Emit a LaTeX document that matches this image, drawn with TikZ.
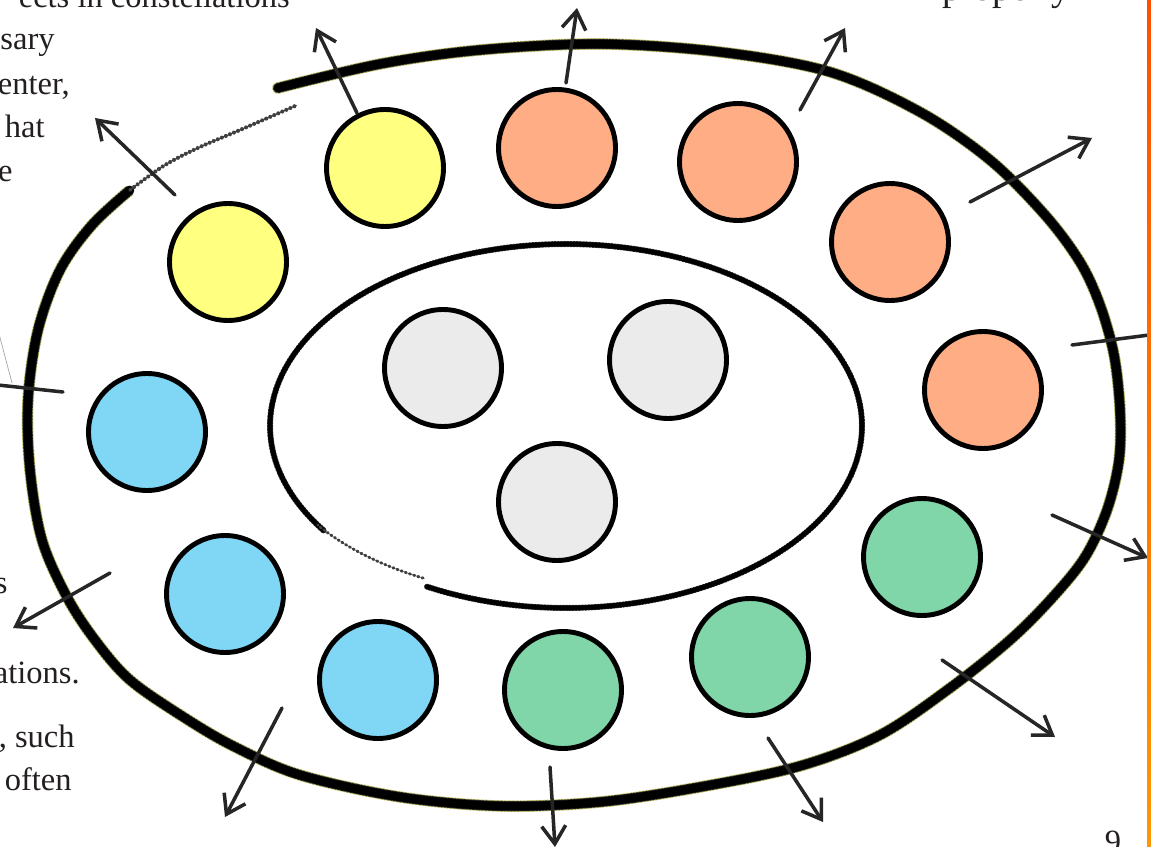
\documentclass[tikz,border=0pt]{standalone}
\usepackage{fontspec}
\setmainfont{Liberation Serif}
\usetikzlibrary{arrows.meta,calc}
\definecolor{ringyellow}{RGB}{255,255,128}
\definecolor{ringsalmon}{RGB}{255,173,133}
\definecolor{ringblue}{RGB}{128,214,245}
\definecolor{ringgreen}{RGB}{128,214,168}
\definecolor{coregray}{RGB}{235,235,235}
\definecolor{rimhalo}{RGB}{150,150,10}
\definecolor{pageink}{RGB}{35,31,32}
\definecolor{bartop}{RGB}{255,78,0}
\definecolor{barbottom}{RGB}{255,152,0}

\begin{document}
\begin{tikzpicture}[x=0.02cm,y=-0.02cm,line cap=round,
  ball/.style={circle,draw=black,line width=2.8pt,minimum size=2.34cm,inner sep=0pt},
  ray/.style={draw=black!85,line width=2pt,-{Straight Barb[length=0.36cm,width=0.48cm]}},
  rim/.style={line width=4.8pt,line join=round},
  halo/.style={line width=6.6pt,draw=rimhalo,opacity=.6,dash pattern=on 0.6pt off 1.6pt},
  fuzz/.style={line width=5.8pt,draw=black!85,dash pattern=on 0.7pt off 1.1pt},
  crumbs/.style={line width=2.2pt,black!75,dash pattern=on 0.8pt off 1.7pt},
  page/.style={font=\fontsize{18.5}{22}\selectfont,text=pageink,inner sep=0pt,anchor=base east}]
\useasboundingbox (0,0) rectangle (1151,847);
\clip (0,0) rectangle (1151,847);
\fill[white] (0,0) rectangle (1151,847);

% outer ring, hand drawn
\foreach \look in {halo,fuzz,rim}{
  \draw[\look] plot[smooth,tension=.55] coordinates {(278,88) (380,64) (480,50)
    (600,44) (720,52) (830,72) (920,112) (990,160) (1045,215) (1080,262)
    (1100,305) (1114,355) (1120,410) (1119,460) (1107,510) (1085,557) (1052,598)
    (1010,640) (950,688) (880,735) (800,766) (700,787) (600,802) (500,806)
    (400,797) (300,775) (235,747) (185,718) (130,680) (95,640) (67,597)
    (42,540) (30,470) (28,400) (38,330) (60,270) (92,225) (130,190)};
}
\draw[crumbs] plot[smooth] coordinates {(130,190) (165,165) (200,147) (240,130) (295,106)};

% inner ring
\draw[fuzz,line width=3.4pt] plot[domain=-215:118,samples=150,variable=\t]
  ({566+296*cos(\t)},{426+182*sin(\t)});
\draw[rim,line width=2.6pt] plot[domain=-215:118,samples=150,variable=\t]
  ({566+296*cos(\t)},{426+182*sin(\t)});
\draw[crumbs,line width=1.6pt] plot[domain=120:147,samples=20,variable=\t]
  ({566+(0.965+0.035*(\t-120)/27)*296*cos(\t)},{426+(0.965+0.035*(\t-120)/27)*182*sin(\t)});

% circles
\node[ball,fill=ringyellow] (yA) at (385,168) {};
\node[ball,fill=ringyellow] (yB) at (228,262) {};
\node[ball,fill=ringsalmon] (oA) at (557,148) {};
\node[ball,fill=ringsalmon] (oB) at (738,162) {};
\node[ball,fill=ringsalmon] (oC) at (890,242) {};
\node[ball,fill=ringsalmon] (oD) at (983,390) {};
\node[ball,fill=ringblue] (bA) at (147,432) {};
\node[ball,fill=ringblue] (bB) at (225,594) {};
\node[ball,fill=ringblue] (bC) at (378,680) {};
\node[ball,fill=ringgreen] (gA) at (563,690) {};
\node[ball,fill=ringgreen] (gB) at (750,657) {};
\node[ball,fill=ringgreen] (gC) at (922,557) {};
\node[ball,fill=coregray] (cA) at (443,368) {};
\node[ball,fill=coregray] (cB) at (668,360) {};
\node[ball,fill=coregray] (cC) at (557,502) {};

% outward arrows
\foreach \i/\a/\b in {1/{175,195}/{95,118},2/{357,113}/{316,28},3/{566,83}/{577,8},
  4/{800,110}/{845,28},5/{970,202}/{1092,138},6/{1072,345}/{1180,331},
  7/{1052,515}/{1148,558},8/{942,660}/{1055,737},9/{768,738}/{823,822},
  10/{550,767}/{555,847},11/{282,708}/{225,817},12/{110,573}/{13,628},
  13/{63,392}/{-30,382}}{
  \coordinate (s\i) at (\a);
  \coordinate (e\i) at (\b);
  \draw[ray] (s\i) -- (e\i);
}
\coordinate (leadA) at (-2,330);
\coordinate (leadB) at (12,383);
\draw[black!35,line width=0.4pt] (leadA) -- (leadB);

% page text
\node[page] (txA) at (290,8) {ects in constellations};
\node[page] (txB) at (55,50) {sary};
\node[page] (txC) at (70,95) {enter,};
\node[page] (txD) at (45,138) {hat};
\node[page] (txE) at (13,182) {e};
\node[page] (txF) at (8,593) {s};
\node[page] (txG) at (80,683) {ations.};
\node[page] (txH) at (75,747) {, such};
\node[page] (txI) at (72,790) {often};
\node[page,anchor=base west,font=\fontsize{21.5}{24}\selectfont] (txJ) at (942,1) {properly};
\node[page,anchor=base] (folio) at (1113,852) {9};

% margin bar
\shade[top color=bartop,bottom color=barbottom] (1147,0) rectangle (1151,847);
\end{tikzpicture}
\end{document}
